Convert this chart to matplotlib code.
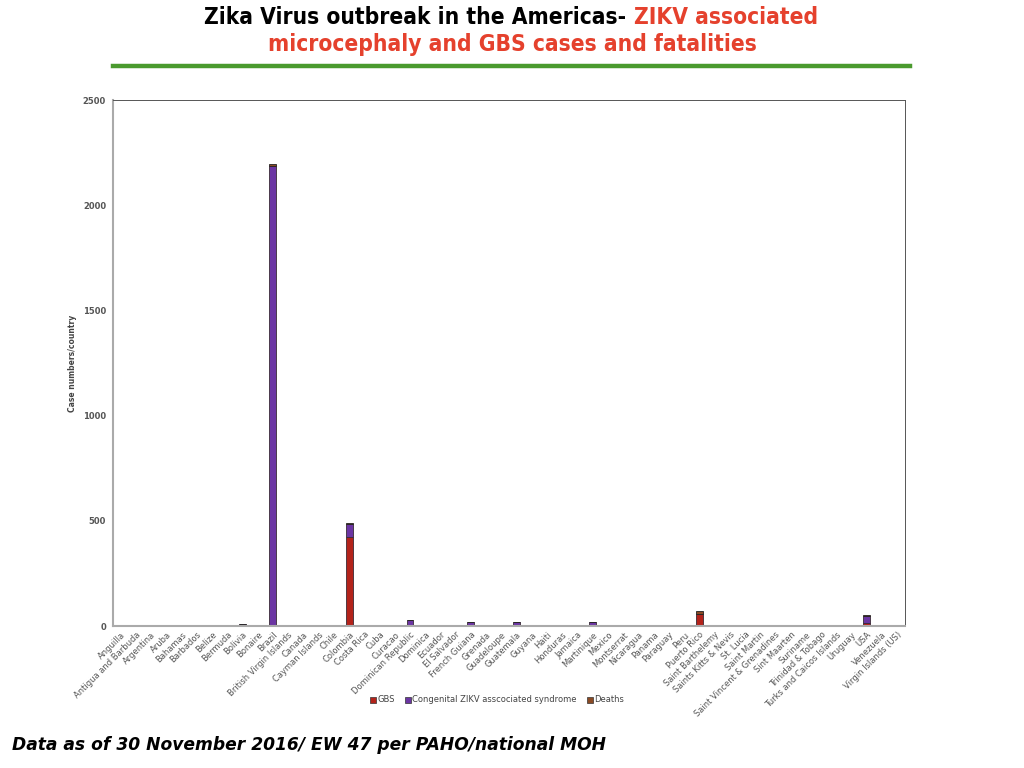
import matplotlib
matplotlib.use("Agg")
import matplotlib.pyplot as plt
import numpy as np
from matplotlib.patches import Patch

countries = ["Anguilla", "Antigua and Barbuda", "Argentina", "Aruba", "Bahamas", "Barbados",
             "Belize", "Bermuda", "Bolivia", "Bonaire", "Brazil", "British Virgin Islands",
             "Canada", "Cayman Islands", "Chile", "Colombia", "Costa Rica", "Cuba", "Curacao",
             "Dominican Republic", "Dominica", "Ecuador", "El Salvador", "French Guiana",
             "Grenada", "Guadeloupe", "Guatemala", "Guyana", "Haiti", "Honduras", "Jamaica",
             "Martinique", "Mexico", "Montserrat", "Nicaragua", "Panama", "Paraguay", "Peru",
             "Puerto Rico", "Saint Barthelemy", "Saints Kitts & Nevis", "St. Lucia",
             "Saint Martin", "Saint Vincent & Grenadines", "Sint Maarten", "Suriname",
             "Trinidad & Tobago", "Turks and Caicos Islands", "Uruguay", "USA", "Venezuela",
             "Virgin Islands (US)"]

gbs = [0, 0, 0, 0, 0, 0, 0, 0, 0, 0, 0, 0, 0, 0, 0, 424, 0, 0, 0,
       0, 0, 0, 0, 0, 0, 0, 0, 0, 0, 0, 0, 0, 0, 0, 0, 0, 0, 0,
       58, 0, 0, 0, 0, 0, 0, 0, 0, 0, 0, 15, 0, 0]
congenital = [0, 0, 3, 0, 0, 0, 0, 0, 10, 0, 2186, 0, 3, 0, 0, 62, 3, 0, 0,
              28, 0, 0, 5, 19, 3, 3, 19, 0, 3, 3, 0, 19, 3, 0, 0, 5, 3, 0,
              0, 0, 0, 0, 0, 0, 3, 2, 3, 0, 0, 31, 0, 0]
deaths = [0, 0, 0, 0, 0, 0, 0, 0, 0, 0, 12, 0, 0, 0, 0, 4, 0, 0, 0,
          0, 0, 0, 0, 0, 0, 0, 0, 0, 0, 0, 0, 0, 0, 0, 0, 0, 0, 0,
          12, 0, 0, 0, 0, 0, 0, 3, 0, 0, 0, 5, 0, 0]

series_names = ["GBS", "Congenital ZIKV asscociated syndrome", "Deaths"]
colors = ["#B3231A", "#6B35A3", "#8A4A24"]

fig = plt.figure(figsize=(10.24, 7.68), dpi=100)
ax = fig.add_axes([113/1024, 1-626/768, (905-113)/1024, (626-100)/768])

x = np.arange(len(countries))
w = 0.45
g = np.array(gbs, float)
c = np.array(congenital, float)
d = np.array(deaths, float)
ec = "#3a2a35"
ax.bar(x, g, w, color=colors[0], edgecolor=ec, linewidth=0.6)
ax.bar(x, c, w, bottom=g, color=colors[1], edgecolor=ec, linewidth=0.6)
ax.bar(x, d, w, bottom=g + c, color=colors[2], edgecolor="#222222", linewidth=0.6)

ax.set_xlim(-0.5, len(countries) - 0.5)
ax.set_ylim(0, 2500)
ax.set_yticks([0, 500, 1000, 1500, 2000, 2500])
ax.set_yticklabels(["0", "500", "1000", "1500", "2000", "2500"], fontsize=6,
                   color="#555555", fontweight="bold")
ax.set_xticks(x)
ax.set_xticklabels(countries, rotation=45, ha="right", rotation_mode="anchor",
                   fontsize=6, color="#555555")
ax.tick_params(axis="both", length=0, pad=5)
ax.tick_params(axis="x", pad=3)

for s in ["left", "bottom"]:
    ax.spines[s].set_color("#aaaaaa")
    ax.spines[s].set_linewidth(1.5)
for s in ["top", "right"]:
    ax.spines[s].set_color("#555555")
    ax.spines[s].set_linewidth(0.7)

ax.set_ylabel("Case numbers/country", fontsize=5.5, color="#444444", labelpad=4,
              fontweight="bold")

handles = [Patch(facecolor=colors[i], edgecolor="#333333", linewidth=0.5) for i in range(3)]
fig.legend(handles, series_names, loc="center", bbox_to_anchor=(497/1024, 1-700/768),
           ncol=3, frameon=False, fontsize=6, handlelength=0.7, handleheight=0.7,
           handletextpad=0.2, columnspacing=1.2, labelcolor="#444444")

# Title with mixed colours, placed by measuring text widths
tkw = dict(fontsize=16.3, fontweight="bold", family="DejaVu Sans", fontstretch="condensed")
renderer = fig.canvas.get_renderer()
part1 = "Zika Virus outbreak in the Americas- "
part2 = "ZIKV associated"
t1 = fig.text(0, 1-17/768, part1, color="black", ha="left", va="center", **tkw)
t2 = fig.text(0, 1-17/768, part2, color="#E5412D", ha="left", va="center", **tkw)
w1 = t1.get_window_extent(renderer).width / 1024
w2 = t2.get_window_extent(renderer).width / 1024
start = 511/1024 - (w1 + w2) / 2
t1.set_x(start)
t2.set_x(start + w1)
fig.text(512/1024, 1-45/768, "microcephaly and GBS cases and fatalities",
         color="#E5412D", ha="center", va="center", **tkw)

fig.add_artist(plt.Line2D([113/1024, 910/1024], [1-66/768, 1-66/768], color="#4A9A2E",
                          linewidth=3.2, transform=fig.transFigure))

fig.text(12/1024, 1-745/768, "Data as of 30 November 2016/ EW 47 per PAHO/national MOH",
         fontsize=12.35, fontweight="bold", style="italic", ha="left", va="center",
         color="black")

fig.savefig("out.png", dpi=100)
